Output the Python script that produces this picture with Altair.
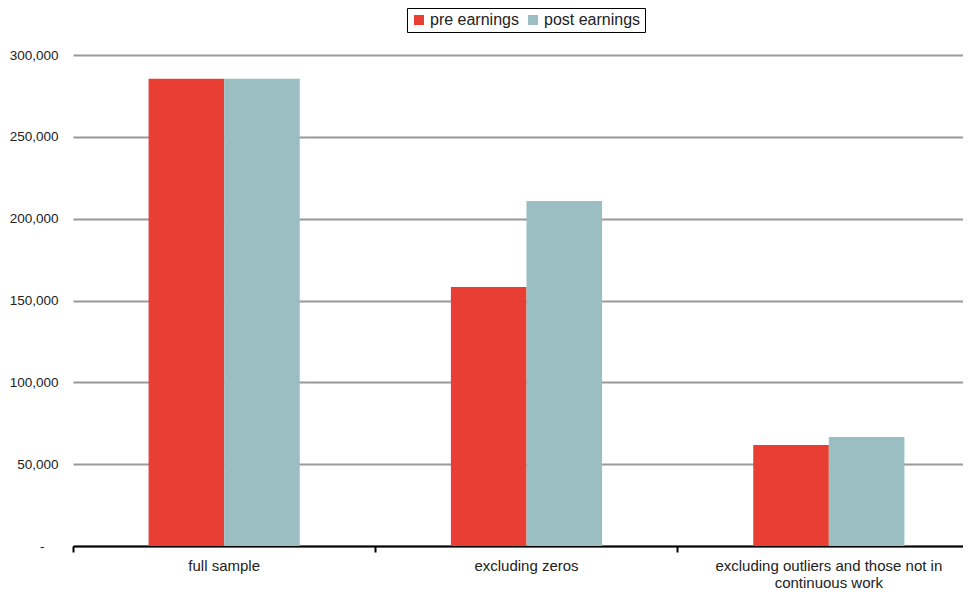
import altair as alt
import pandas as pd

categories = ["full sample", "excluding zeros", "excluding outliers and those not in continuous work"]
series = ["pre earnings", "post earnings"]
pre_values = [285500, 158200, 61700]
post_values = [285500, 210800, 66600]
colors = ["#E83E33", "#9ABEC1"]

rows = []
for c, p, q in zip(categories, pre_values, post_values):
    rows.append({"category": c, "series": series[0], "value": p})
    rows.append({"category": c, "series": series[1], "value": q})
df = pd.DataFrame(rows)

font = "Liberation Sans"

label_expr = (
    "datum.label == 'excluding outliers and those not in continuous work' ? "
    "['excluding outliers and those not in', 'continuous work'] : datum.label"
)

chart = alt.Chart(df).mark_bar().encode(
    x=alt.X(
        "category:N",
        sort=categories,
        scale=alt.Scale(paddingInner=0, paddingOuter=0),
        axis=alt.Axis(
            title=None,
            labelAngle=0,
            labelExpr=label_expr,
            labelFont=font,
            labelFontSize=15,
            labelColor="#222",
            labelPadding=6,
            labelLineHeight=17,
            labelLimit=600,
            domainColor="#000",
            domainWidth=2,
            tickColor="#000",
            tickWidth=2,
            tickSize=6,
            bandPosition=0,
            grid=False,
        ),
    ),
    xOffset=alt.XOffset("series:N", sort=series, scale=alt.Scale(paddingInner=0, paddingOuter=1)),
    y=alt.Y(
        "value:Q",
        scale=alt.Scale(domain=[0, 300000]),
        axis=alt.Axis(
            title=None,
            values=[0, 50000, 100000, 150000, 200000, 250000, 300000],
            labelExpr="datum.value == 0 ? '-' : format(datum.value, ',')",
            labelFont=font,
            labelFontSize=13.5,
            labelColor="#222",
            labelPadding={"condition": {"test": "datum.value == 0", "value": 29}, "value": 15},
            domain=False,
            ticks=False,
            grid=True,
            gridColor="#999999",
            gridWidth=2,
        ),
    ),
    color=alt.Color(
        "series:N",
        sort=series,
        scale=alt.Scale(domain=series, range=colors),
        legend=alt.Legend(
            title=None,
            orient="none",
            direction="horizontal",
            legendX=334,
            legendY=-47,
            symbolType="square",
            symbolSize=100,
            symbolStrokeWidth=0,
            labelFont=font,
            labelFontSize=16,
            labelColor="#222",
            labelOffset=3,
            columnPadding=6,
            padding=4,
            strokeColor="#000",
            fillColor="#fff",
        ),
    ),
).properties(
    width=907,
    height=491,
    autosize=alt.AutoSizeParams(type="none"),
    padding={"left": 65, "top": 47, "right": -17, "bottom": 44},
).configure_view(stroke=None)

chart.save("out.html", embed_options={"renderer": "svg", "actions": False})
